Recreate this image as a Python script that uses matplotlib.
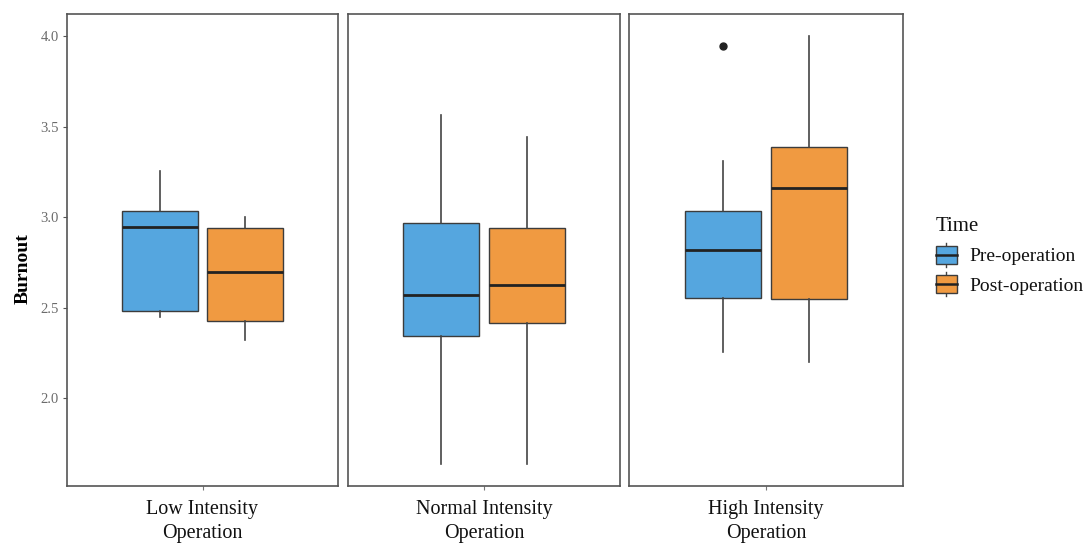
import matplotlib
matplotlib.use("Agg")
import matplotlib.pyplot as plt
from matplotlib.legend_handler import HandlerBase
from matplotlib.patches import Rectangle
from matplotlib.lines import Line2D

plt.rcParams['font.family'] = ['Liberation Serif', 'DejaVu Serif']

groups = ["Low Intensity\nOperation", "Normal Intensity\nOperation", "High Intensity\nOperation"]
times = ["Pre-operation", "Post-operation"]
colors = ["#55A6DF", "#F09A41"]

# [whislo, q1, med, q3, whishi] per group per time
pre_stats = [
    [2.447, 2.481, 2.945, 3.033, 3.254],
    [1.635, 2.343, 2.569, 2.967, 3.564],
    [2.254, 2.552, 2.818, 3.033, 3.309],
]
post_stats = [
    [2.320, 2.425, 2.696, 2.939, 3.000],
    [1.635, 2.414, 2.624, 2.939, 3.442],
    [2.199, 2.547, 3.160, 3.387, 4.000],
]
pre_fliers = [[], [], [3.945]]
post_fliers = [[], [], []]

yticks = [2.0, 2.5, 3.0, 3.5, 4.0]

fig = plt.figure(figsize=(10.9, 5.43), dpi=100)
W, H = 1090, 543
panels_px = [(67, 338), (348, 620), (629, 903)]
top_px, bot_px = 14, 486

edge = "#3c3c3c"
axes = []
for i, (l, r) in enumerate(panels_px):
    ax = fig.add_axes([l / W, 1 - bot_px / H, (r - l) / W, (bot_px - top_px) / H])
    axes.append(ax)
    for j, (stats_list, fl_list) in enumerate([(pre_stats, pre_fliers), (post_stats, post_fliers)]):
        s = stats_list[i]
        d = dict(whislo=s[0], q1=s[1], med=s[2], q3=s[3], whishi=s[4], fliers=fl_list[i])
        pos = 1 + (-0.188 if j == 0 else 0.188)
        ax.bxp([d], positions=[pos], widths=0.336, patch_artist=True, showcaps=False,
               boxprops=dict(facecolor=colors[j], edgecolor=edge, linewidth=1.0),
               medianprops=dict(color="#222222", linewidth=2.0),
               whiskerprops=dict(color="#444444", linewidth=1.2),
               flierprops=dict(marker='o', markerfacecolor="#222222", markeredgecolor="#222222", markersize=5))
    ax.set_xlim(0.4, 1.6)
    ax.set_ylim(1.514, 4.122)
    ax.set_xticks([1])
    ax.set_xticklabels([groups[i]], fontsize=14.5, color="#111111", linespacing=1.35)
    for sp in ax.spines.values():
        sp.set_color("#555555")
        sp.set_linewidth(1.2)
    ax.tick_params(axis='x', length=3, color="#777777", pad=7)
    if i == 0:
        ax.set_yticks(yticks)
        ax.set_yticklabels([f"{v:.1f}" for v in yticks], fontsize=10.5, color="#6b6b6b")
        ax.tick_params(axis='y', length=3, color="#555555", pad=3)
        ax.set_ylabel("Burnout", fontsize=14, fontweight='bold')
        ax.yaxis.set_label_coords(-0.13, 0.46)
    else:
        ax.set_yticks([])


class BoxHandler(HandlerBase):
    def __init__(self, color):
        super().__init__()
        self.color = color

    def create_artists(self, legend, orig_handle, xdescent, ydescent, width, height, fontsize, trans):
        bw = width
        x0 = -xdescent
        y0 = -ydescent
        rect = Rectangle((x0, y0 + height * 0.0), bw, height * 1.0, facecolor=self.color,
                         edgecolor=edge, linewidth=1.0, transform=trans)
        med = Line2D([x0, x0 + bw], [y0 + height / 2] * 2, color="#222222", linewidth=1.8, transform=trans)
        cx = x0 + bw / 2
        w1 = Line2D([cx, cx], [y0 + height * 1.0, y0 + height * 1.2], color="#444444", linewidth=1.0, transform=trans)
        w2 = Line2D([cx, cx], [y0 - height * 0.2, y0], color="#444444", linewidth=1.0, transform=trans)
        return [w1, w2, rect, med]


h1 = Rectangle((0, 0), 1, 1)
h2 = Rectangle((0, 0), 1, 1)
leg = fig.legend([h1, h2], times, handler_map={h1: BoxHandler(colors[0]), h2: BoxHandler(colors[1])},
                 loc='center left', bbox_to_anchor=(918 / W, 1 - 256 / H), frameon=False,
                 title="Time", fontsize=14, title_fontsize=15, handlelength=1.1, handleheight=1.0,
                 handletextpad=0.65, labelspacing=0.5, alignment='left')
leg.get_title().set_color("#111111")
for t in leg.get_texts():
    t.set_color("#111111")

fig.savefig("out.png", dpi=100, facecolor="white")
